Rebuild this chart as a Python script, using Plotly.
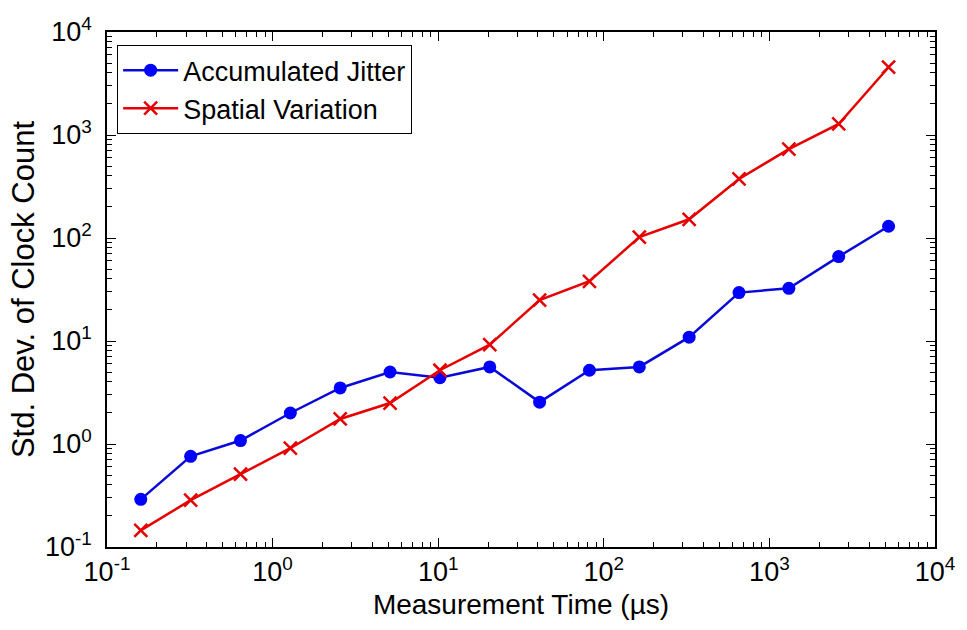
import plotly.graph_objects as go

# Measurement times (µs), doubling from 0.16 µs
measurement_time = [0.16, 0.32, 0.64, 1.28, 2.56, 5.12, 10.24, 20.48, 40.96,
                    81.92, 163.84, 327.68, 655.36, 1310.72, 2621.44, 5242.88]

# Standard deviation of clock count for each source
accumulated_jitter = [0.29, 0.76, 1.08, 2.0, 3.5, 5.0, 4.4, 5.6, 2.55,
                      5.2, 5.6, 10.9, 29.5, 32.5, 66.0, 130.0]
spatial_variation = [0.145, 0.285, 0.51, 0.91, 1.75, 2.5, 5.2, 9.2, 25.0,
                     38.0, 102.0, 152.0, 374.0, 730.0, 1280.0, 4550.0]

# Axis decades and their labels
decades = [0.1, 1, 10, 100, 1000, 10000]
decade_labels = ["10<sup>-1</sup>", "10<sup>0</sup>", "10<sup>1</sup>",
                 "10<sup>2</sup>", "10<sup>3</sup>", "10<sup>4</sup>"]
minor_vals = [k * d for d in decades[:-1] for k in range(2, 10)]

FONT = "Liberation Sans, Arial, sans-serif"

fig = go.Figure()
fig.add_trace(go.Scatter(
    x=measurement_time, y=accumulated_jitter, mode="lines+markers",
    name="Accumulated Jitter",
    line=dict(color="#0a0ad8", width=2.5),
    marker=dict(symbol="circle", size=13, color="#0000ff"),
))
fig.add_trace(go.Scatter(
    x=measurement_time, y=spatial_variation, mode="lines+markers",
    name="Spatial Variation",
    line=dict(color="#e60000", width=2.5),
    marker=dict(symbol="x-thin-open", size=13,
                line=dict(color="#e60000", width=2.5)),
))

axis_common = dict(
    type="log",
    tickmode="array",
    tickvals=decades,
    ticktext=decade_labels,
    ticks="inside",
    ticklen=9,
    tickwidth=1.2,
    tickcolor="black",
    showline=True,
    linecolor="black",
    linewidth=1.5,
    mirror="allticks",
    showgrid=False,
    zeroline=False,
    tickfont=dict(family=FONT, size=27, color="black"),
    minor=dict(ticks="inside", ticklen=5, tickwidth=1, tickcolor="black",
               tickmode="array", tickvals=minor_vals, showgrid=False),
)

fig.update_xaxes(
    **axis_common,
    range=[-1, 4],
    title=dict(text="Measurement Time (µs)",
               font=dict(family=FONT, size=28, color="black"), standoff=8),
)
fig.update_yaxes(
    **axis_common,
    range=[-1, 4],
    ticklabelstandoff=8,
    title=dict(text="Std. Dev. of Clock Count",
               font=dict(family=FONT, size=31, color="black"), standoff=1),
)

fig.update_layout(
    width=967, height=630,
    margin=dict(l=107, r=27, t=32, b=83),
    paper_bgcolor="white",
    plot_bgcolor="white",
    font=dict(family=FONT, color="black"),
    legend=dict(
        x=0.012, y=0.975, xanchor="left", yanchor="top",
        bgcolor="white", bordercolor="black", borderwidth=1.2,
        font=dict(family=FONT, size=27, color="black"),
        itemwidth=55, tracegroupgap=0,
    ),
)

fig.write_html("out.html")
